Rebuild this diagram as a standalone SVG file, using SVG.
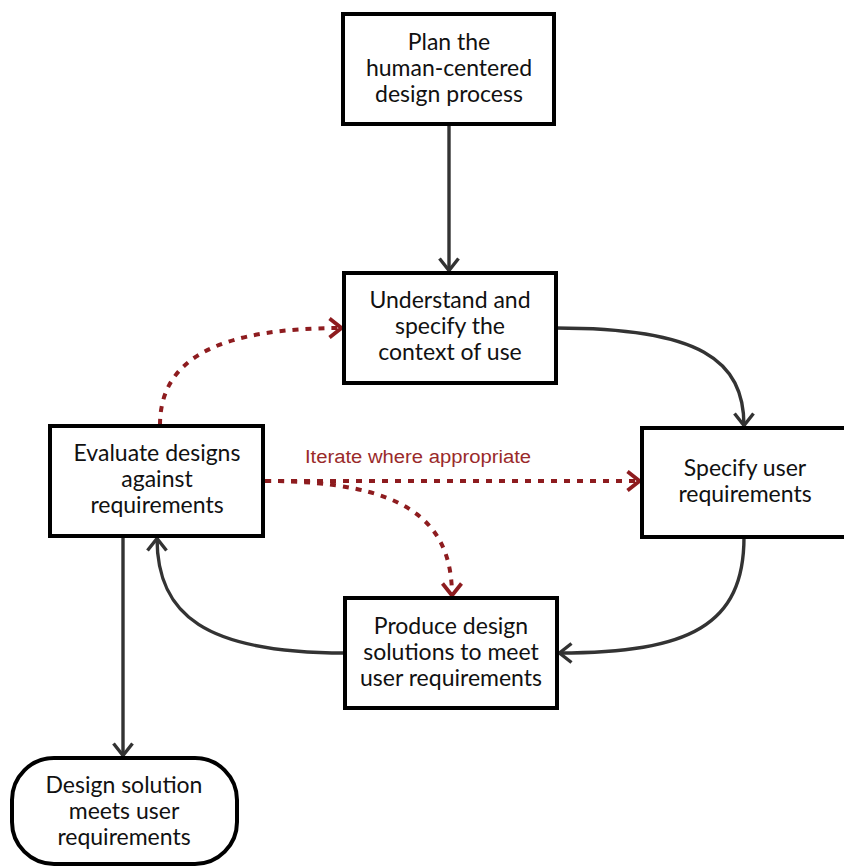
<svg xmlns="http://www.w3.org/2000/svg" width="844" height="867" viewBox="0 0 844 867">
  <style>
    .box { fill: #ffffff; stroke: #000000; stroke-width: 4; }
    .lbl { font-family: Lato, "Open Sans", "Liberation Sans", sans-serif; font-size: 23px; fill: #111111; text-anchor: middle; }
    .flow { fill: none; stroke: #333333; stroke-width: 3.4; }
    .iter { fill: none; stroke: #8e1c1f; stroke-width: 4; stroke-dasharray: 6 7; }
    .note { font-family: "Liberation Sans", Arial, sans-serif; font-size: 18px; fill: #9a2a2a; }
  </style>
  <defs>
    <marker id="arrowDark" viewBox="0 0 16 22" refX="14.5" refY="11" markerWidth="16" markerHeight="22" markerUnits="userSpaceOnUse" orient="auto">
      <path d="M2,1.5 L14,11 L2,20.5" fill="none" stroke="#333333" stroke-width="3.4"/>
    </marker>
    <marker id="arrowRed" viewBox="0 0 16 22" refX="14.5" refY="11" markerWidth="16" markerHeight="22" markerUnits="userSpaceOnUse" orient="auto">
      <path d="M2,1.5 L14,11 L2,20.5" fill="none" stroke="#8e1c1f" stroke-width="3.8"/>
    </marker>
  </defs>

  <rect width="844" height="867" fill="#ffffff"/>

  <!-- connectors -->
  <g id="connectors">
    <path class="flow" d="M449,124 L449,271" marker-end="url(#arrowDark)"/>
    <path class="flow" d="M556,328 C700,328 744,360 744,426" marker-end="url(#arrowDark)"/>
    <path class="flow" d="M744,537 C744,625 690,653 559,653" marker-end="url(#arrowDark)"/>
    <path class="flow" d="M345,653 C205,653 157,615 157,538" marker-end="url(#arrowDark)"/>
    <path class="flow" d="M123,536 L123,756" marker-end="url(#arrowDark)"/>

    <path class="iter" d="M160,425 C160,355 225,328 342,328" marker-end="url(#arrowRed)"/>
    <path class="iter" d="M265,481 L640,481" marker-end="url(#arrowRed)"/>
    <path class="iter" d="M265,481 C405,481 452,520 452,596" marker-end="url(#arrowRed)"/>
    <text class="note" x="305" y="463" textLength="226" lengthAdjust="spacingAndGlyphs">Iterate where appropriate</text>
  </g>

  <g id="plan">
    <rect class="box" x="343" y="14" width="211" height="110"/>
    <text class="lbl" x="449" y="50">Plan the</text>
    <text class="lbl" x="449" y="76">human-centered</text>
    <text class="lbl" x="449" y="102">design process</text>
  </g>

  <g id="context">
    <rect class="box" x="344" y="273" width="212" height="110"/>
    <text class="lbl" x="450" y="308">Understand and</text>
    <text class="lbl" x="450" y="334">specify the</text>
    <text class="lbl" x="450" y="360">context of use</text>
  </g>

  <g id="evaluate">
    <rect class="box" x="50" y="426" width="213" height="110"/>
    <text class="lbl" x="157" y="461">Evaluate designs</text>
    <text class="lbl" x="157" y="487">against</text>
    <text class="lbl" x="157" y="513">requirements</text>
  </g>

  <g id="requirements">
    <rect class="box" x="642" y="428" width="206" height="109"/>
    <text class="lbl" x="745" y="476">Specify user</text>
    <text class="lbl" x="745" y="502">requirements</text>
  </g>

  <g id="produce">
    <rect class="box" x="345" y="598" width="212" height="110"/>
    <text class="lbl" x="451" y="634">Produce design</text>
    <text class="lbl" x="451" y="660">solutions to meet</text>
    <text class="lbl" x="451" y="686">user requirements</text>
  </g>

  <g id="solution">
    <rect class="box" x="12" y="758" width="225" height="106" rx="42" ry="42"/>
    <text class="lbl" x="124" y="793">Design solution</text>
    <text class="lbl" x="124" y="819">meets user</text>
    <text class="lbl" x="124" y="845">requirements</text>
  </g>
</svg>
